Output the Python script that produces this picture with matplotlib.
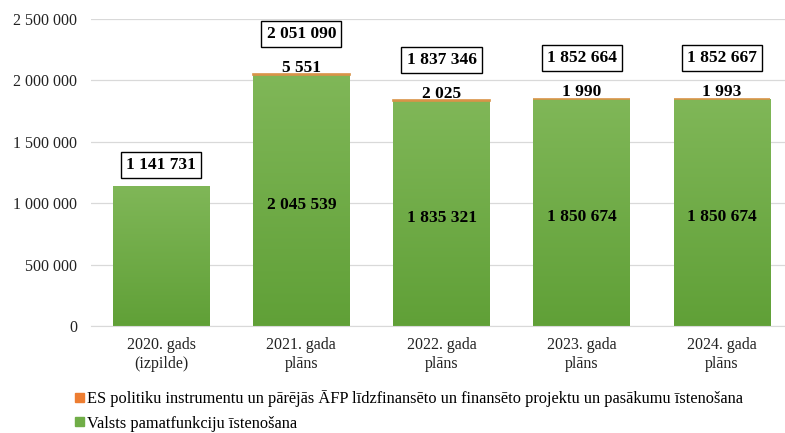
import matplotlib.pyplot as plt
import numpy as np
from matplotlib.colors import LinearSegmentedColormap
from matplotlib.patches import Patch

plt.rcParams["font.family"] = ["Liberation Serif", "DejaVu Serif"]

categories = ["2020. gads\n(izpilde)", "2021. gada\nplāns", "2022. gada\nplāns",
              "2023. gada\nplāns", "2024. gada\nplāns"]
base_values = [1141731, 2045539, 1835321, 1850674, 1850674]
eu_values = [0, 5551, 2025, 1990, 1993]
totals = [1141731, 2051090, 1837346, 1852664, 1852667]
yticks = [0, 500000, 1000000, 1500000, 2000000, 2500000]

series_names = [
    "ES politiku instrumentu un pārējās ĀFP līdzfinansēto un finansēto projektu un pasākumu īstenošana",
    "Valsts pamatfunkciju īstenošana",
]

GREEN = "#70AD47"
ORANGE = "#ED7D31"


def fmt(v):
    return f"{v:,}".replace(",", " ")


fig = plt.figure(figsize=(7.85, 4.33), dpi=100)
ax = fig.add_axes([0.116, 0.247, 0.884, 0.709])

x = np.arange(len(categories))
width = 0.69

green_bars = ax.bar(x, base_values, width, color=GREEN, zorder=2)
ax.bar(x, eu_values, width, bottom=base_values, color=ORANGE,
       edgecolor="#D99448", linewidth=[1.2 if v else 0 for v in eu_values], zorder=3)

# vertical gradient on the green bars
cmap = LinearSegmentedColormap.from_list("g", ["#60A037", "#80B758"])
grad = np.linspace(0, 1, 256).reshape(-1, 1)
for bar in green_bars:
    x0 = bar.get_x()
    h = bar.get_height()
    im = ax.imshow(grad, cmap=cmap, origin="lower", aspect="auto",
                   extent=(x0, x0 + bar.get_width(), 0, h), zorder=2.5)
    im.set_clip_path(bar)

ax.set_xlim(-0.5, 4.45)
ax.set_ylim(0, 2500000)
ax.set_yticks(yticks)
ax.set_yticklabels([fmt(v) for v in yticks])
ax.set_xticks(x)
ax.set_xticklabels(categories, linespacing=1.2)
ax.tick_params(axis="both", length=0, labelsize=11.5, colors="#222222")
ax.tick_params(axis="x", pad=8)
ax.tick_params(axis="y", pad=9.8)

ax.grid(axis="y", color="#D9D9D9", linewidth=0.9, zorder=0)
ax.set_axisbelow(True)
for side in ["top", "right", "left"]:
    ax.spines[side].set_visible(False)
ax.spines["bottom"].set_color("#D9D9D9")

for i in range(len(categories)):
    top = base_values[i] + eu_values[i]
    if eu_values[i]:
        ax.annotate(fmt(eu_values[i]), (x[i], top), xytext=(0, 4.5),
                    textcoords="offset points", ha="center", va="center",
                    fontsize=12.5, fontweight="bold")
        ax.annotate(fmt(base_values[i]), (x[i], base_values[i] / 2), xytext=(0, -3),
                    textcoords="offset points", ha="center", va="center",
                    fontsize=12.5, fontweight="bold")
        off = 29
    else:
        off = 15
    ax.annotate(fmt(totals[i]), (x[i], top), xytext=(0, off),
                textcoords="offset points", ha="center", va="center",
                fontsize=12.5, fontweight="bold",
                bbox=dict(boxstyle="square,pad=0.3", fc="white", ec="black", lw=1))

handles = [Patch(color=ORANGE), Patch(color=GREEN)]
fig.legend(handles, series_names, loc="upper left", bbox_to_anchor=(0.096, 0.098),
           frameon=False, fontsize=11.8, handlelength=0.5, handleheight=0.5,
           handletextpad=0.2, labelspacing=0.5, borderaxespad=0, borderpad=0)

fig.savefig("out.png", dpi=100)
